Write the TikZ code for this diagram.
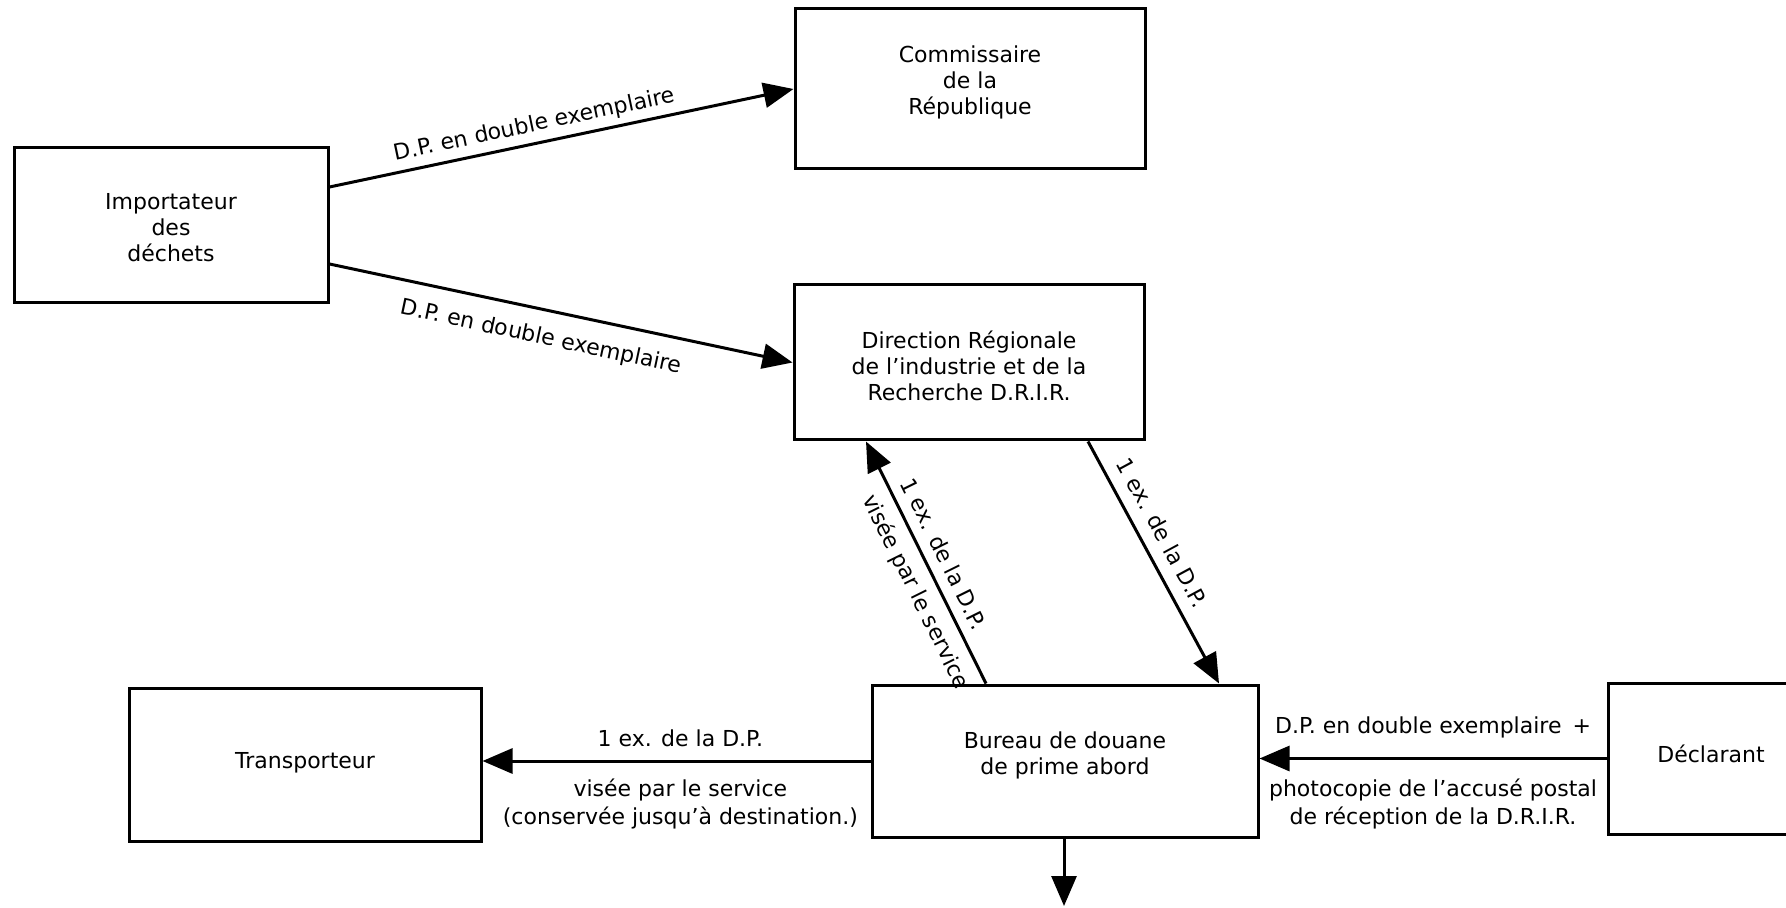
\documentclass[tikz,border=0pt]{standalone}
\usepackage{fontspec}
\setmainfont{DejaVu Sans}
\usetikzlibrary{arrows.meta,calc}
\begin{document}
\begin{tikzpicture}[x=0.5pt,y=-0.5pt,
  >={Triangle[length=15pt,width=12.5pt]},
  box/.style={draw,line width=1.5pt,inner sep=0pt},
  btxt/.style={inner sep=0pt,align=center,font=\fontsize{11}{13}\selectfont},
  arr/.style={line width=1.5pt,->},
  arrback/.style={line width=1.5pt,<-},
  lbl/.style={inner sep=0pt,align=center,font=\fontsize{11}{14}\selectfont}]
\useasboundingbox (0,0) rectangle (1786,908);
\clip (0,0) rectangle (1786,908);
% boxes
\node[box,minimum width=157pt,minimum height=77.5pt,
  label={[btxt,yshift=-1.1pt]center:{Importateur\\des\\déchets}}] (im) at (171,225.5) {};
\node[box,minimum width=175pt,minimum height=80pt,
  label={[btxt,yshift=3.4pt]center:{Commissaire\\de la\\République}}] (co) at (970,89) {};
\node[box,minimum width=175pt,minimum height=77.5pt,
  label={[btxt,yshift=-1.7pt]center:{Direction Régionale\\de l’industrie et de la\\Recherche D.R.I.R.}}] (dr) at (969,362.5) {};
\node[box,minimum width=176pt,minimum height=76.5pt,
  label={[btxt,yshift=1.1pt]center:{Transporteur}}] (tr) at (305,764.5) {};
\node[box,minimum width=193pt,minimum height=76pt,
  label={[btxt,yshift=2.6pt]center:{Bureau de douane\\de prime abord}}] (bu) at (1065,761) {};
\node[box,minimum width=103pt,minimum height=75.5pt,
  label={[btxt,yshift=2.3pt]center:{Déclarant}}] (dc) at (1711,758.5) {};
\coordinate (out) at (1064,906);
% connectors
\draw[arr] ([yshift=19.25pt]im.east) -- (co.west)
  node[lbl,sloped,above=3pt,pos=0.45] {D.P. en double exemplaire};
\draw[arr] ([yshift=-19.25pt]im.east) -- (dr.west)
  node[lbl,sloped,below=8pt,pos=0.47] {D.P. en double exemplaire};
\draw[arrback] ([xshift=-51.5pt]dr.south) -- ([xshift=-39.5pt]bu.north)
  node[lbl,sloped,above=5pt,pos=0.5] {1 ex. de la D.P.}
  node[lbl,sloped,below=5pt,pos=0.58] {visée par le service};
\draw[arr] ([xshift=59.5pt]dr.south) -- ([xshift=77pt]bu.north)
  node[lbl,sloped,above=6pt,pos=0.42] {1 ex. de la D.P.};
\draw[arr] (bu.west) -- (bu.west -| tr.east)
  node[lbl,above=6.5pt,pos=0.49] {1 ex. de la D.P.}
  node[lbl,below=8pt,pos=0.49] {visée par le service\\(conservée jusqu’à destination.)};
\draw[arr] (dc.west) -- (dc.west -| bu.east)
  node[lbl,above=9.5pt,pos=0.5] {D.P. en double exemplaire\enspace+}
  node[lbl,below=9.5pt,pos=0.5] {photocopie de l’accusé postal\\de réception de la D.R.I.R.};
\draw[arr] (bu.south -| out) -- (out);
\end{tikzpicture}
\end{document}
